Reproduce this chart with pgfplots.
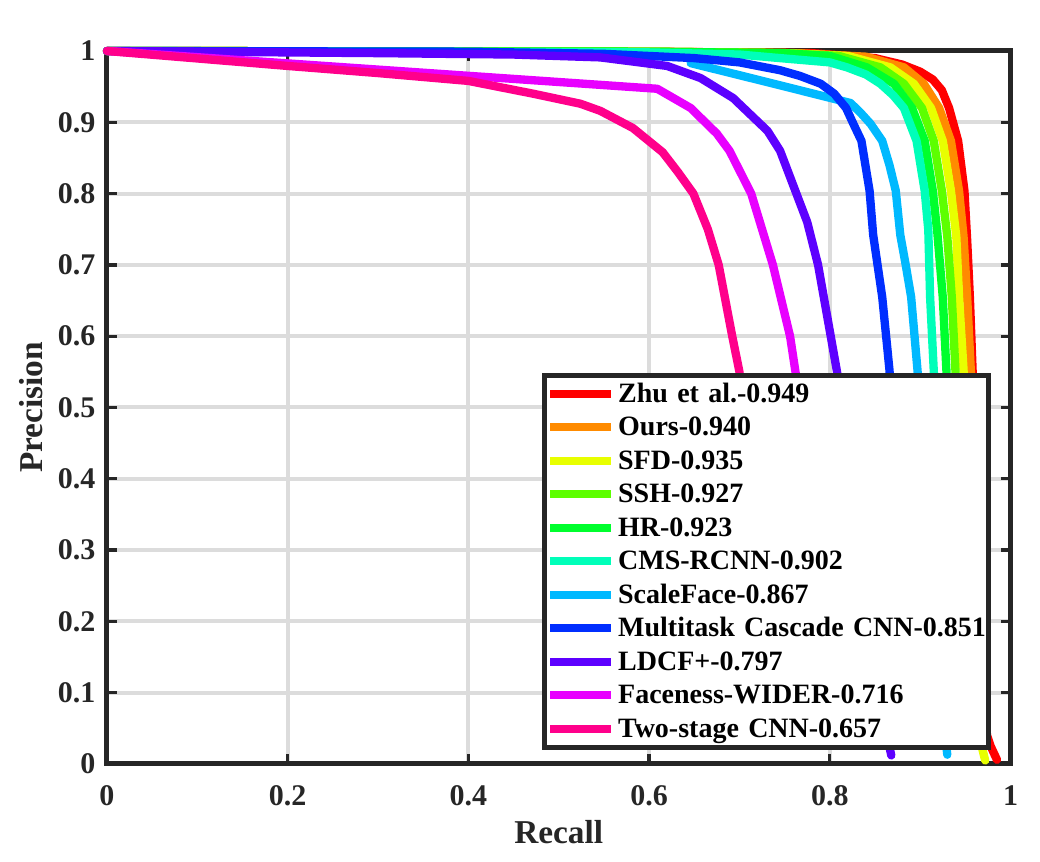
\documentclass[border=0pt]{standalone}
\usepackage{fontspec}
\setmainfont{Liberation Serif}
\usepackage{pgfplots}
\pgfplotsset{compat=1.18}

\definecolor{axgray}{RGB}{38,38,38}
\definecolor{gridgray}{RGB}{220,220,220}
% hsv(11) palette
\definecolor{cA}{RGB}{255,0,0}
\definecolor{cB}{RGB}{255,139,0}
\definecolor{cC}{RGB}{232,255,0}
\definecolor{cD}{RGB}{93,255,0}
\definecolor{cE}{RGB}{0,255,46}
\definecolor{cF}{RGB}{0,255,185}
\definecolor{cG}{RGB}{0,185,255}
\definecolor{cH}{RGB}{0,46,255}
\definecolor{cI}{RGB}{93,0,255}
\definecolor{cJ}{RGB}{232,0,255}
\definecolor{cK}{RGB}{255,0,139}

\begin{document}
\begin{tikzpicture}
\begin{axis}[
  scale only axis,
  width=271.05pt, height=213.9pt,
  xmin=0, xmax=1, ymin=0, ymax=1,
  clip=false,
  xtick={0,0.2,0.4,0.6,0.8,1},
  xticklabels={0,0.2,0.4,0.6,0.8,1},
  ytick={0,0.1,0.2,0.3,0.4,0.5,0.6,0.7,0.8,0.9,1},
  yticklabels={0,0.1,0.2,0.3,0.4,0.5,0.6,0.7,0.8,0.9,1},
  tick align=inside,
  major tick length=3pt,
  tick style={axgray, line width=1pt},
  axis line style={axgray, line width=1.5pt},
  grid=major,
  major grid style={gridgray, line width=1.2pt},
  /pgf/number format/assume math mode=true,
  ticklabel style={font=\bfseries\fontsize{9}{10}\selectfont, text=axgray},
  xticklabel style={anchor=north, inner sep=0pt, yshift=-6.3pt},
  yticklabel style={anchor=east, inner sep=0pt, xshift=-3.3pt},
  xlabel={Recall},
  ylabel={Precision},
  label style={font=\bfseries\fontsize{10}{12}\selectfont, text=axgray},
  xlabel style={at={(axis description cs:0.5,-0.0954)}, anchor=center},
  ylabel style={at={(axis description cs:-0.0841,0.5)}, anchor=center},
  every axis plot/.append style={line width=2.5pt, line join=round, line cap=round},
  legend image code/.code={\draw[#1, line width=2.4pt, line cap=butt] (0pt,0pt) -- (18.3pt,0pt);},
  legend style={
    at={(rel axis cs:0.9784,0.549)}, anchor=north east,
    draw=axgray, line width=1.5pt, fill=white,
    font=\bfseries\fontsize{8.4}{9.5}\selectfont, text=black,
    inner xsep=0.6pt, inner ysep=1.3pt,
    row sep=1.55pt,
    nodes={inner sep=0pt, text height=6.9pt, text depth=1.6pt, text width=110.5pt, align=left},
    /tikz/every odd column/.append style={column sep=0.9pt},
  },
  legend cell align=left,
]
% Zhu et al.
\addplot[color=cA] coordinates {(0,1) (0.6,0.999) (0.78,0.997) (0.85,0.99) (0.880,0.981) (0.900,0.971) (0.914,0.96) (0.924,0.945) (0.932,0.92) (0.942,0.874) (0.949,0.804) (0.952,0.735) (0.955,0.655) (0.958,0.553) (0.961,0.45) (0.964,0.35) (0.966,0.25) (0.968,0.15) (0.971,0.08) (0.974,0.04) (0.978,0.025) (0.985,0.006)};
\addlegendentry{Zhu et al.-0.949}
% Ours
\addplot[color=cB] coordinates {(0,1) (0.6,0.999) (0.76,0.997) (0.84,0.992) (0.882,0.977) (0.904,0.954) (0.921,0.92) (0.934,0.874) (0.943,0.804) (0.948,0.74) (0.952,0.655) (0.956,0.553) (0.959,0.45) (0.962,0.35) (0.965,0.25) (0.967,0.15) (0.969,0.08) (0.971,0.04)};
\addlegendentry{Ours-0.940}
% SFD
\addplot[color=cC] coordinates {(0,1) (0.6,0.999) (0.75,0.997) (0.82,0.993) (0.867,0.977) (0.893,0.954) (0.912,0.92) (0.925,0.874) (0.934,0.804) (0.940,0.74) (0.943,0.655) (0.948,0.553) (0.952,0.45) (0.955,0.35) (0.958,0.25) (0.962,0.15) (0.965,0.07) (0.968,0.025) (0.972,0.005)};
\addlegendentry{SFD-0.935}
% SSH
\addplot[color=cD] coordinates {(0,1) (0.6,0.999) (0.75,0.997) (0.81,0.993) (0.856,0.977) (0.882,0.954) (0.902,0.92) (0.915,0.874) (0.924,0.804) (0.930,0.74) (0.935,0.655) (0.939,0.553) (0.942,0.45) (0.945,0.35) (0.948,0.25) (0.951,0.15) (0.954,0.08) (0.957,0.04)};
\addlegendentry{SSH-0.927}
% HR
\addplot[color=cE] coordinates {(0,1) (0.6,0.999) (0.745,0.997) (0.80,0.993) (0.841,0.977) (0.871,0.954) (0.891,0.92) (0.905,0.874) (0.914,0.804) (0.919,0.745) (0.925,0.655) (0.929,0.553) (0.933,0.45) (0.936,0.35) (0.939,0.25) (0.942,0.15) (0.945,0.08) (0.948,0.04)};
\addlegendentry{HR-0.923}
% CMS-RCNN
\addplot[color=cF] coordinates {(0,1) (0.6,0.998) (0.7,0.995) (0.745,0.99) (0.80,0.984) (0.819,0.977) (0.84,0.967) (0.856,0.954) (0.87,0.938) (0.882,0.92) (0.896,0.874) (0.905,0.804) (0.909,0.749) (0.911,0.655) (0.915,0.553) (0.919,0.45) (0.922,0.35) (0.925,0.25) (0.928,0.15) (0.931,0.08) (0.934,0.04)};
\addlegendentry{CMS-RCNN-0.902}
% ScaleFace
\addplot[color=cG] coordinates {(0.646,0.983) (0.735,0.955) (0.823,0.927) (0.835,0.912) (0.845,0.898) (0.858,0.874) (0.866,0.84) (0.873,0.804) (0.878,0.742) (0.884,0.70) (0.890,0.655) (0.897,0.553) (0.903,0.45) (0.909,0.35) (0.915,0.25) (0.920,0.15) (0.925,0.07) (0.930,0.013)};
\addlegendentry{ScaleFace-0.867}
% Multitask Cascade CNN
\addplot[color=cH] coordinates {(0,1) (0.4,0.999) (0.55,0.996) (0.65,0.99) (0.70,0.984) (0.745,0.973) (0.767,0.965) (0.79,0.954) (0.805,0.94) (0.818,0.92) (0.826,0.898) (0.835,0.874) (0.844,0.804) (0.848,0.742) (0.858,0.655) (0.866,0.553) (0.872,0.45) (0.878,0.35) (0.884,0.25) (0.890,0.15) (0.896,0.08) (0.901,0.04)};
\addlegendentry{Multitask Cascade CNN-0.851}
% LDCF+
\addplot[color=cI] coordinates {(0,1) (0.3,0.997) (0.45,0.995) (0.546,0.991) (0.62,0.979) (0.657,0.962) (0.693,0.934) (0.731,0.888) (0.745,0.86) (0.763,0.80) (0.775,0.76) (0.787,0.70) (0.801,0.60) (0.808,0.55) (0.818,0.45) (0.828,0.35) (0.838,0.25) (0.848,0.15) (0.857,0.08) (0.868,0.012)};
\addlegendentry{LDCF+-0.797}
% Faceness-WIDER
\addplot[color=cJ] coordinates {(0,1) (0.609,0.947) (0.646,0.92) (0.675,0.884) (0.689,0.86) (0.713,0.80) (0.737,0.70) (0.756,0.60) (0.762,0.55) (0.775,0.45) (0.785,0.35) (0.793,0.25) (0.800,0.15) (0.805,0.08) (0.808,0.04)};
\addlegendentry{Faceness-WIDER-0.716}
% Two-stage CNN
\addplot[color=cK] coordinates {(0,1) (0.2,0.979) (0.3,0.969) (0.4,0.958) (0.472,0.94) (0.524,0.926) (0.546,0.916) (0.582,0.892) (0.615,0.858) (0.632,0.83) (0.649,0.80) (0.665,0.75) (0.677,0.70) (0.692,0.60) (0.700,0.55) (0.708,0.45) (0.714,0.35) (0.719,0.25) (0.723,0.15) (0.726,0.08) (0.728,0.04)};
\addlegendentry{Two-stage CNN-0.657}
\end{axis}
\path (-32.1pt,-29.4pt) rectangle (279.9pt,229.2pt);
\end{tikzpicture}
\end{document}
